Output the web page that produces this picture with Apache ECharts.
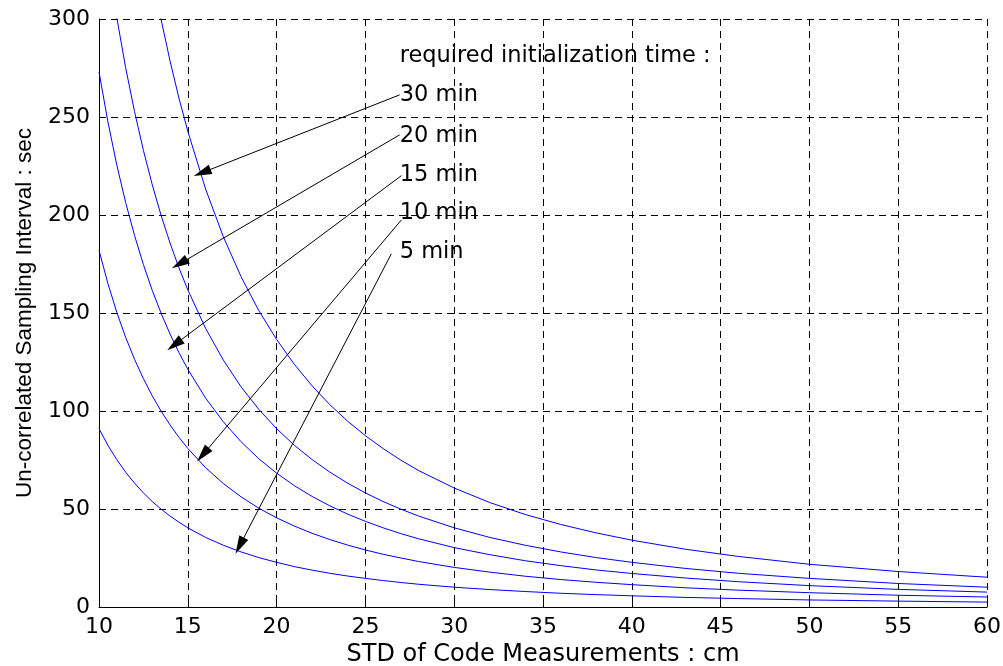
<!DOCTYPE html>
<html>
<head>
<meta charset="utf-8">
<script src="https://cdn.jsdelivr.net/npm/echarts@6/dist/echarts.min.js"></script>
<style>
html,body{margin:0;padding:0;background:#fff;}
#chart{width:1003px;height:666px;}
</style>
</head>
<body>
<div id="chart"></div>
<script>
// STD of code measurements (cm)
var xValues = [10,10.5,11,11.5,12,12.5,13,13.5,14,14.5,15,16,17,18,19,20,21,22,23,24,25,26,27,28,30,32,34,36,38,40,43,46,50,55,60];
// Un-correlated sampling interval (sec) for each required initialization time
var min5  = [91,82.5,75.2,68.8,63.2,58.2,53.8,49.9,46.4,43.3,40.4,35.5,31.5,28.1,25.2,22.8,20.6,18.8,17.2,15.8,14.6,13.5,12.5,11.6,10.1,8.9,7.9,7.0,6.3,5.7,4.9,4.3,3.6,3.0,2.5];
var min10 = [182,165.1,150.4,137.6,126.4,116.5,107.7,99.9,92.9,86.6,80.9,71.1,63.0,56.2,50.4,45.5,41.3,37.6,34.4,31.6,29.1,26.9,25.0,23.2,20.2,17.8,15.7,14.0,12.6,11.4,9.8,8.6,7.3,6.0,5.1];
var min15 = [273,247.6,225.6,206.4,189.6,174.7,161.5,149.8,139.3,129.8,121.3,106.6,94.5,84.3,75.6,68.3,61.9,56.4,51.6,47.4,43.7,40.4,37.4,34.8,30.3,26.7,23.6,21.1,18.9,17.1,14.8,12.9,10.9,9.0,7.6];
var min20 = [364,330.2,300.8,275.2,252.8,233.0,215.4,199.7,185.7,173.1,161.8,142.2,126.0,112.3,100.8,91.0,82.5,75.2,68.8,63.2,58.2,53.8,49.9,46.4,40.4,35.5,31.5,28.1,25.2,22.8,19.7,17.2,14.6,12.0,10.1];
var min30 = [546,495.3,451.2,412.8,379.2,349.4,323.1,299.6,278.6,259.7,242.7,213.3,188.9,168.5,151.2,136.5,123.8,112.8,103.2,94.8,87.4,80.8,74.9,69.6,60.7,53.3,47.2,42.1,37.8,34.1,29.5,25.8,21.8,18.1,15.2];

var seriesNames = ['5 min','10 min','15 min','20 min','30 min'];
var seriesValues = [min5, min10, min15, min20, min30];

// annotation labels (text, data x, data y)
var labelTexts = ['required initialization time :','30 min','20 min','15 min','10 min','5 min'];
var labelX = [26.93,26.93,26.93,26.93,26.93,26.93];
var labelY = [280.8,261.2,240.3,220.5,201.1,180.8];

// arrows: start (near label) -> end (on curve), in data units
var arrowFrom = [[26.93,261.3],[26.93,240.9],[27.03,220.1],[27.03,197.5],[26.46,180.2]];
var arrowTo   = [[15.81,221.6],[14.54,175.1],[14.25,133.8],[15.85,77.7],[17.92,31.3]];

var FONT = 'DejaVu Sans';
var chart = echarts.init(document.getElementById('chart'));

var series = seriesValues.map(function(vals, i){
  return {
    name: seriesNames[i],
    type: 'line',
    data: xValues.map(function(x, j){ return [x, vals[j]]; }),
    showSymbol: false,
    symbol: 'none',
    smooth: false,
    clip: true,
    lineStyle: {color: '#0000ff', width: 1},
    silent: true,
    z: 3
  };
});

series.push({
  name: 'arrows',
  type: 'line',
  data: [],
  silent: true,
  markLine: {
    silent: true,
    symbol: ['none', 'triangle'],
    symbolSize: [10, 18],
    label: {show: false},
    lineStyle: {color: '#000', width: 1, type: 'solid'},
    itemStyle: {color: '#000'},
    emphasis: {disabled: true},
    animation: false,
    data: arrowFrom.map(function(f, i){
      return [{coord: f}, {coord: arrowTo[i]}];
    })
  },
  z: 4
});

series.push({
  name: 'labels',
  type: 'scatter',
  symbolSize: 0,
  silent: true,
  itemStyle: {opacity: 1},
  data: labelTexts.map(function(t, i){ return [labelX[i], labelY[i], t]; }),
  label: {
    show: true,
    position: 'right',
    distance: 0,
    formatter: function(p){ return p.data[2]; },
    fontFamily: FONT,
    fontSize: 22.5,
    color: '#000',
    opacity: 1
  },
  z: 5
});

chart.setOption({
  animation: false,
  backgroundColor: '#fff',
  grid: {left: 99, right: 16, top: 19, bottom: 59, containLabel: false, outerBoundsMode: 'none'},
  xAxis: {
    type: 'value',
    min: 10, max: 60, interval: 5,
    name: 'STD of Code Measurements : cm',
    nameLocation: 'middle',
    nameGap: 36,
    nameTextStyle: {fontFamily: FONT, fontSize: 24, color: '#000'},
    axisLine: {show: true, onZero: false, lineStyle: {color: '#000', width: 1}},
    axisTick: {show: true, inside: true, length: 5, lineStyle: {color: '#000'}},
    axisLabel: {fontFamily: FONT, fontSize: 22, color: '#000', margin: 9},
    splitLine: {show: true, lineStyle: {color: '#000', width: 1, type: [7, 5]}}
  },
  yAxis: {
    type: 'value',
    min: 0, max: 300, interval: 50,
    name: 'Un-correlated Sampling Interval : sec',
    nameLocation: 'middle',
    nameGap: 63,
    nameRotate: 90,
    nameTextStyle: {fontFamily: 'Liberation Sans', fontSize: 22.5, color: '#000'},
    axisLine: {show: true, lineStyle: {color: '#000', width: 1}},
    axisTick: {show: true, inside: true, length: 5, lineStyle: {color: '#000'}},
    axisLabel: {fontFamily: FONT, fontSize: 22, color: '#000', margin: 9},
    splitLine: {show: true, lineStyle: {color: '#000', width: 1, type: [7, 5]}}
  },
  series: series
});
</script>
</body>
</html>
